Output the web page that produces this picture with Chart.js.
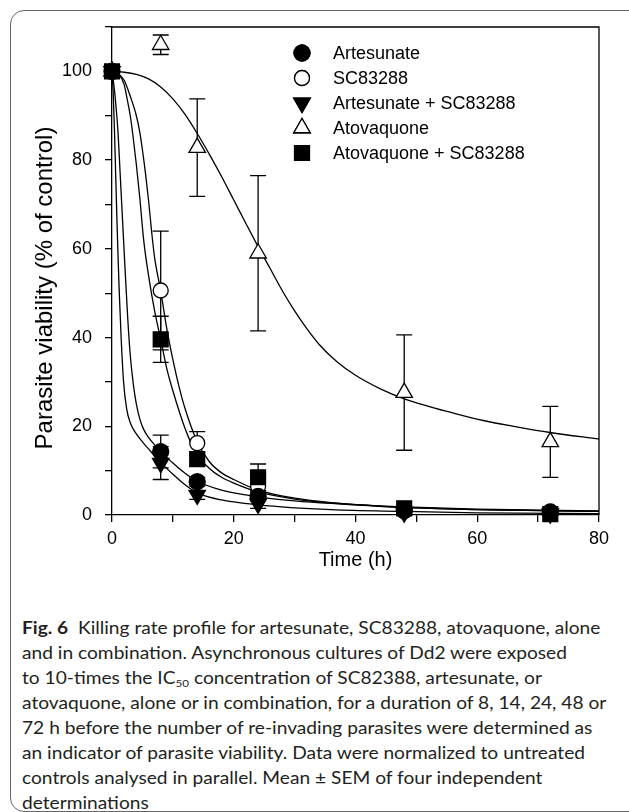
<!DOCTYPE html>
<html>
<head>
<meta charset="utf-8">
<script src="https://cdn.jsdelivr.net/npm/chart.js@4.4.0/dist/chart.umd.min.js"></script>
<style>
  html, body { margin: 0; padding: 0; background: #fff; }
  body { width: 629px; height: 812px; position: relative; overflow: hidden; }
  #frame {
    position: absolute; left: 10px; top: 10px; width: 640px; height: 802px;
    border: 1.5px solid #666; border-radius: 14px; box-sizing: border-box;
  }
  #wrap { position: absolute; left: 0; top: 0; width: 629px; height: 590px; }
  #caption {
    position: absolute; left: 22px; top: 616px;
    font-family: Lato, "Open Sans", sans-serif; font-size: 16.5px; line-height: 25px;
    color: #231f20; transform-origin: 0 0; white-space: nowrap;
  }
  #caption b { font-weight: 700; }
  #caption sub { font-size: 10px; vertical-align: -3px; line-height: 0; }
</style>
</head>
<body>
<div id="frame"></div>
<div id="wrap"><canvas id="grafico" width="629" height="590"></canvas></div>
<div id="caption">
  <div class="ln" id="ln1"><b>Fig. 6</b>&nbsp; Killing rate profile for artesunate, SC83288, atovaquone, alone</div>
  <div class="ln">and in combination. Asynchronous cultures of Dd2 were exposed</div>
  <div class="ln">to 10-times the IC<sub>50</sub> concentration of SC82388, artesunate, or</div>
  <div class="ln">atovaquone, alone or in combination, for a duration of 8, 14, 24, 48 or</div>
  <div class="ln">72 h before the number of re-invading parasites were determined as</div>
  <div class="ln">an indicator of parasite viability. Data were normalized to untreated</div>
  <div class="ln">controls analysed in parallel. Mean ± SEM of four independent</div>
  <div class="ln">determinations</div>
</div>
<script>
// datos medidos (h, % de control)
const tiempos = [0, 8, 14, 24, 48, 72];

const artesunato = [100, 14.3, 7.5, 4.2, 1.0, 0.6];
const artesunatoErr = [0, 3.7, 1.0, 1.0, 0.4, 0.3];
const sc83288 = [100, 50.6, 16.2, 6.5, 1.0, 0.8];
const sc83288Err = [0, 13.4, 2.6, 2.0, 0.5, 0.3];
const artSc = [100, 11.7, 4.5, 2.5, 0.5, 0.3];
const artScErr = [0, 3.7, 1.0, 1.0, 0.3, 0.2];
const atovacuona = [100, 106, 82.8, 59, 27.6, 16.5];
const atovacuonaErr = [0, 2.2, 11, 17.5, 13, 8];
const atovSc = [100, 39.6, 12.6, 8.5, 1.5, 0.2];
const atovScErr = [0, 5.2, 1.5, 3.0, 0.5, 0.3];

// curvas ajustadas
const ajusteArtT = [0, 0.3, 0.6, 1.0, 1.3, 1.6, 1.9, 2.2, 2.6, 3.0, 3.5, 4, 4.6, 5.2, 6, 7, 8, 10, 12, 14, 18, 24, 30, 36, 48, 60, 80];
const ajusteArtV = [100, 97, 93, 86, 78, 70, 62, 54, 44, 36, 29.5, 25, 21.5, 19.3, 17.5, 15.8, 14.4, 11.7, 9.4, 7.6, 5.6, 4.1, 3.2, 2.6, 1.8, 1.3, 0.9];
const ajusteArtScT = [0, 0.2, 0.4, 0.6, 0.8, 1.0, 1.2, 1.5, 1.9, 2.4, 3, 4, 5, 6, 7, 8, 10, 12, 14, 18, 24, 36, 48, 60, 80];
const ajusteArtScV = [100, 95, 87, 77, 67, 58, 50, 40, 30, 24, 20.8, 18.3, 16.5, 14.9, 13.3, 11.8, 9.2, 6.8, 5, 3.4, 2.3, 1.2, 0.8, 0.5, 0.3];
const ajusteScT = [0, 1, 2, 3, 4, 4.6, 5.5, 6, 6.5, 7, 8, 9, 10, 11, 12, 14, 16, 18, 20, 24, 30, 36, 48, 60, 80];
const ajusteScV = [100, 99.5, 98, 94.4, 90, 86, 77, 71, 64, 58, 50.5, 42, 35, 29, 24, 16.5, 12, 9.5, 8, 5.6, 3.8, 2.8, 1.7, 1.2, 0.8];
const ajusteAtovScT = [0, 1, 2, 2.4, 3, 3.4, 4, 4.6, 5.2, 6, 7, 8, 9, 10, 12, 14, 16, 18, 20, 24, 30, 36, 48, 60, 80];
const ajusteAtovScV = [100, 99.5, 97, 94.4, 90, 86, 79, 71, 62, 54, 46, 39.6, 33, 28, 19.5, 13.5, 10.5, 8.5, 7.2, 5.2, 3.6, 2.7, 1.7, 1.2, 0.8];
const ajusteAtovT = [0, 2, 4, 6, 8, 10, 12, 14, 16, 18, 20, 22, 24, 26, 28, 30, 32, 34, 37, 40, 44, 48, 52, 56, 61, 66, 72, 80];
const ajusteAtovV = [100, 99.8, 99.3, 98.3, 96.5, 93.8, 90.3, 86, 81.3, 76.3, 71, 65.7, 60.5, 55.5, 50.5, 46, 42, 38.5, 34.5, 31.5, 28.5, 26.2, 24.5, 23, 21.3, 20, 18.6, 17.1];

const etiquetas = ['Artesunate', 'SC83288', 'Artesunate + SC83288', 'Atovaquone', 'Atovaquone + SC83288'];
const tituloY = 'Parasite viability (% of control)';

const FUENTE = '"Liberation Sans", Arial, sans-serif';

function pares(xs, ys) {
    return xs.map((x, i) => ({ x: x, y: ys[i] }));
}

function curva(xs, ys) {
    return {
        data: pares(xs, ys),
        borderColor: '#000',
        borderWidth: 1.3,
        pointRadius: 0,
        fill: false,
        cubicInterpolationMode: 'monotone',
        clip: false,
        order: 10
    };
}

function marcadores(label, ys, err, estilo, relleno, radio, rotacion, orden) {
    return {
        label: label,
        data: pares(tiempos, ys),
        err: err,
        showLine: false,
        pointStyle: estilo,
        pointRadius: radio,
        pointRotation: rotacion,
        pointBackgroundColor: relleno,
        pointBorderColor: '#000',
        pointBorderWidth: 1.3,
        clip: false,
        order: orden,
        esMarcador: true
    };
}

// barras de error (debajo de los marcadores)
const barrasError = {
    id: 'barrasError',
    beforeDatasetsDraw(chart) {
        const ctx = chart.ctx;
        const xs = chart.scales.x, ys = chart.scales.y;
        ctx.save();
        ctx.strokeStyle = '#000';
        ctx.lineWidth = 1.3;
        chart.data.datasets.forEach(ds => {
            if (!ds.esMarcador) return;
            ds.data.forEach((p, i) => {
                const e = ds.err[i];
                if (!e) return;
                const x = xs.getPixelForValue(p.x);
                const y1 = ys.getPixelForValue(p.y + e);
                const y2 = ys.getPixelForValue(Math.max(p.y - e, 0));
                ctx.beginPath();
                ctx.moveTo(x, y1); ctx.lineTo(x, y2);
                ctx.moveTo(x - 8, y1); ctx.lineTo(x + 8, y1);
                ctx.moveTo(x - 8, y2); ctx.lineTo(x + 8, y2);
                ctx.stroke();
            });
        });
        ctx.restore();
    }
};

// marco superior y derecho, titulo del eje Y y leyenda
const marcoYLeyenda = {
    id: 'marcoYLeyenda',
    afterDraw(chart) {
        const ctx = chart.ctx;
        const a = chart.chartArea;
        ctx.save();
        ctx.strokeStyle = '#000';
        ctx.lineWidth = 1.3;
        ctx.beginPath();
        ctx.moveTo(a.left, a.top); ctx.lineTo(a.right, a.top); ctx.lineTo(a.right, a.bottom);
        ctx.stroke();

        // titulo Y (un poco por debajo del centro, como en el original)
        ctx.save();
        ctx.translate(45, 288);
        ctx.rotate(-Math.PI / 2);
        ctx.font = '24px ' + FUENTE;
        ctx.fillStyle = '#000';
        ctx.textAlign = 'center';
        ctx.textBaseline = 'middle';
        ctx.fillText(tituloY, 0, 0);
        ctx.restore();

        const marc = chart.data.datasets.filter(d => d.esMarcador);
        const orden = etiquetas.map(l => marc.find(d => d.label === l));
        ctx.font = '18px ' + FUENTE;
        ctx.textBaseline = 'middle';
        orden.forEach((ds, i) => {
            const y = 53 + i * 25;
            Chart.helpers.drawPoint(ctx, {
                pointStyle: ds.pointStyle,
                radius: ds.pointRadius,
                rotation: ds.pointRotation,
                borderWidth: 1.3
            }, 302, y);
            ctx.fillStyle = ds.pointBackgroundColor;
            ctx.strokeStyle = '#000';
            ctx.fill();
            ctx.stroke();
            ctx.fillStyle = '#000';
            ctx.fillText(ds.label, 333, y + 1);
        });
        ctx.restore();
    }
};

const ejeComun = {
    grid: { drawOnChartArea: false, drawTicks: true, tickLength: 7, color: '#000', lineWidth: 1.3 },
    border: { display: true, color: '#000', width: 1.3 }
};

const ctx = document.getElementById('grafico').getContext('2d');
new Chart(ctx, {
    type: 'line',
    data: {
        datasets: [
            curva(ajusteArtT, ajusteArtV),
            curva(ajusteArtScT, ajusteArtScV),
            curva(ajusteScT, ajusteScV),
            curva(ajusteAtovScT, ajusteAtovScV),
            curva(ajusteAtovT, ajusteAtovV),
            marcadores('Atovaquone', atovacuona, atovacuonaErr, 'triangle', '#fff', 9.5, 0, 5),
            marcadores('SC83288', sc83288, sc83288Err, 'circle', '#fff', 7.5, 0, 4),
            marcadores('Atovaquone + SC83288', atovSc, atovScErr, 'rect', '#000', 10.5, 0, 3),
            marcadores('Artesunate + SC83288', artSc, artScErr, 'triangle', '#000', 9.5, 180, 2),
            marcadores('Artesunate', artesunato, artesunatoErr, 'circle', '#000', 8, 0, 1)
        ]
    },
    options: {
        responsive: false,
        animation: false,
        layout: { padding: { top: 27, right: 30, left: 0, bottom: 0 } },
        plugins: { legend: { display: false }, tooltip: { enabled: false } },
        scales: {
            x: {
                ...ejeComun,
                type: 'linear', min: 0, max: 80,
                ticks: {
                    stepSize: 10, autoSkip: false, maxRotation: 0, padding: 6, color: '#000',
                    font: { family: FUENTE, size: 18 },
                    callback: v => (v % 20 === 0 ? v : '')
                },
                title: {
                    display: true, text: 'Time (h)', color: '#000',
                    font: { family: FUENTE, size: 20 }, padding: { top: 0, bottom: 18 }
                },
                afterFit: s => { s.height = 75; }
            },
            y: {
                ...ejeComun,
                min: 0, max: 110,
                ticks: {
                    stepSize: 10, autoSkip: false, padding: 13, color: '#000',
                    font: { family: FUENTE, size: 18 },
                    callback: v => (v % 20 === 0 && v <= 100 ? v : '')
                },
                afterFit: s => { s.width = 112; }
            }
        }
    },
    plugins: [barrasError, marcoYLeyenda]
});

// ajustar el ancho del pie de figura
function ajustarPie() {
    const pie = document.getElementById('caption');
    pie.style.transform = 'none';
    const ancho = document.getElementById('ln1').scrollWidth;
    pie.style.transform = 'scaleX(' + (584 / ancho) + ')';
}
ajustarPie();
if (document.fonts) document.fonts.ready.then(ajustarPie);
</script>
</body>
</html>
